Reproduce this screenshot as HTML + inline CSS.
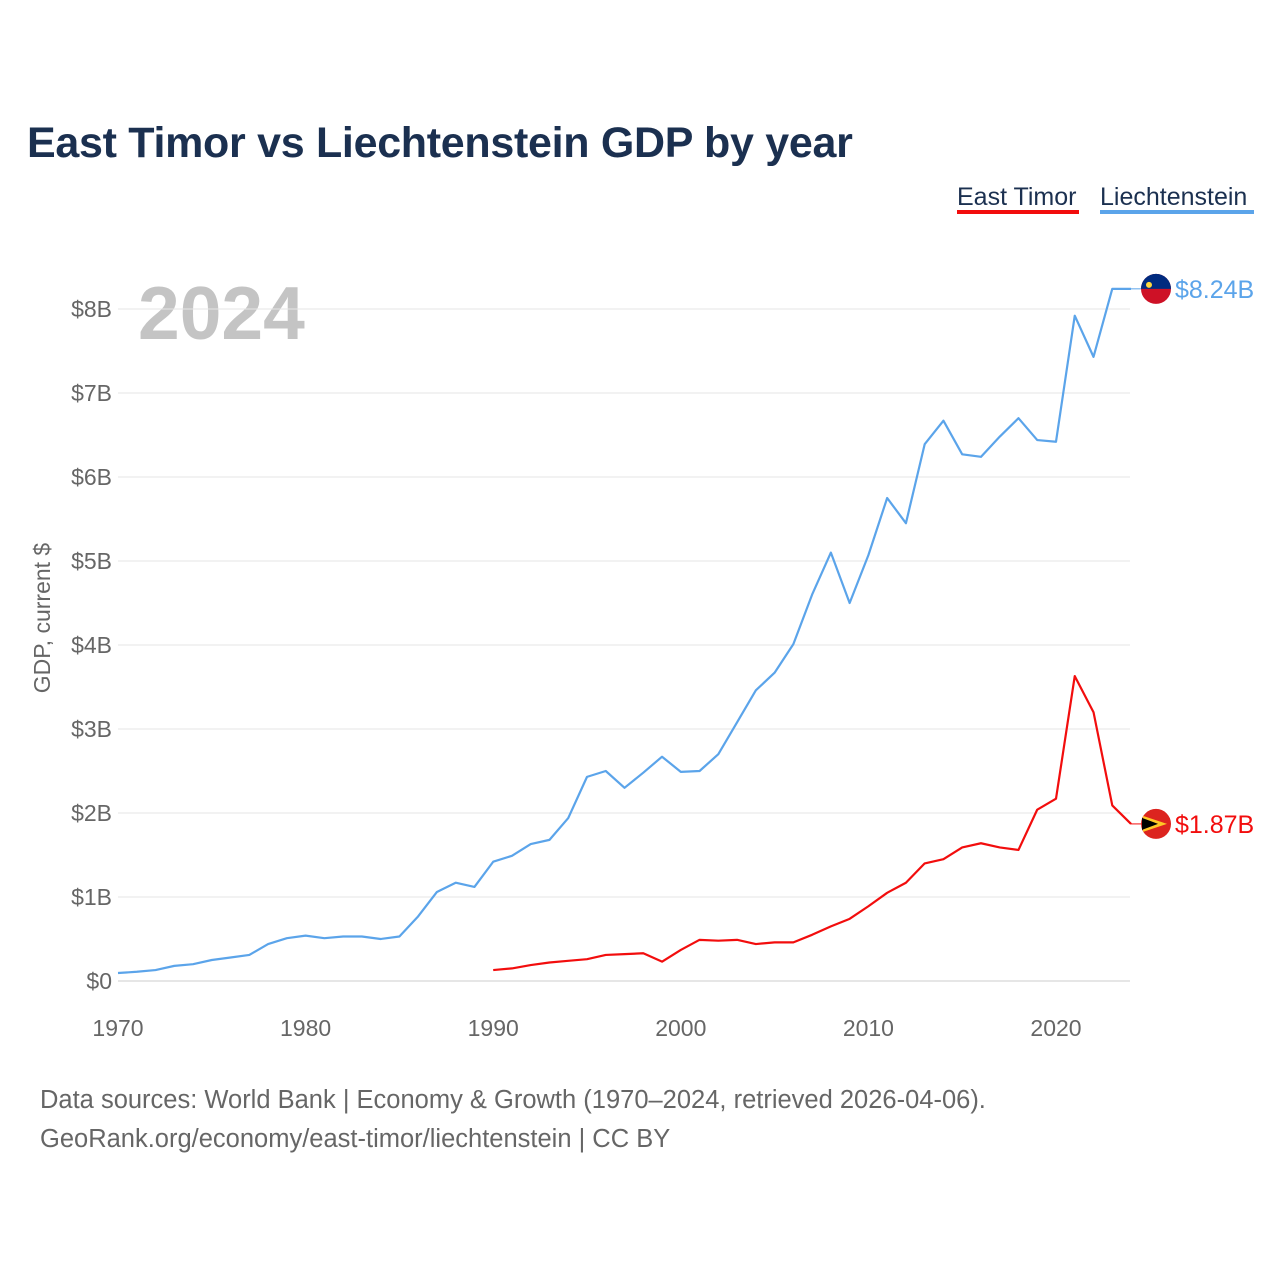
<!DOCTYPE html>
<html><head><meta charset="utf-8"><style>
body{margin:0;background:#fff;font-family:"Liberation Sans",sans-serif}
svg text{font-family:"Liberation Sans",sans-serif}
</style></head><body>
<svg width="1280" height="1280" viewBox="0 0 1280 1280">
<text x="27" y="157" font-size="43" letter-spacing="-0.3" font-weight="bold" fill="#1b3050">East Timor vs Liechtenstein GDP by year</text>
<g><text x="957" y="205" font-size="25" fill="#1b3050">East Timor</text><rect x="957" y="210" width="122" height="4" fill="#f20d0d"/></g>
<g><text x="1100" y="205" font-size="25" fill="#1b3050">Liechtenstein</text><rect x="1100" y="210" width="154" height="4" fill="#5ba4ea"/></g>
<text x="138" y="339" font-size="75" font-weight="bold" fill="#c4c4c4">2024</text>
<text transform="translate(50,618) rotate(-90)" text-anchor="middle" font-size="23" fill="#666">GDP, current $</text>
<g id="grid"></g><g id="series"></g>
<text x="40" y="1108" font-size="25.5" fill="#666">Data sources: World Bank | Economy &amp; Growth (1970–2024, retrieved 2026-04-06).</text>
<text x="40" y="1147" font-size="25.5" fill="#666">GeoRank.org/economy/east-timor/liechtenstein | CC BY</text>
</svg>
<script>
const yTicks=[0,1,2,3,4,5,6,7,8];
const yTickLabels=["$0","$1B","$2B","$3B","$4B","$5B","$6B","$7B","$8B"];
const xTicks=[1970,1980,1990,2000,2010,2020];
const liYears=[];for(let y=1970;y<=2024;y++)liYears.push(y);
const liechtenstein=[0.095,0.11,0.13,0.18,0.2,0.25,0.28,0.31,0.44,0.51,0.54,0.51,0.53,0.53,0.5,0.53,0.77,1.06,1.17,1.12,1.42,1.49,1.63,1.68,1.94,2.43,2.5,2.3,2.48,2.67,2.49,2.5,2.7,3.08,3.46,3.67,4.01,4.6,5.1,4.5,5.07,5.75,5.45,6.39,6.67,6.27,6.24,6.48,6.7,6.44,6.42,7.92,7.43,8.24,8.24];
const etYears=[];for(let y=1990;y<=2024;y++)etYears.push(y);
const eastTimor=[0.13,0.15,0.19,0.22,0.24,0.26,0.31,0.32,0.33,0.23,0.37,0.49,0.48,0.49,0.44,0.46,0.46,0.55,0.65,0.74,0.89,1.05,1.17,1.4,1.45,1.59,1.64,1.59,1.56,2.04,2.17,3.63,3.2,2.09,1.87];
const NS="http://www.w3.org/2000/svg";
const xs=y=>118+(y-1970)*18.76;
const ys=v=>981-v*84;
function mk(t,a,p){const e=document.createElementNS(NS,t);for(const k in a)e.setAttribute(k,a[k]);p.appendChild(e);return e;}
const grid=document.getElementById('grid');
yTicks.forEach((v,i)=>{
 const l=mk('line',{x1:118,x2:1130,y1:ys(v),y2:ys(v),stroke:i==0?'#ccc':'#e6e6e6','stroke-width':1},grid);
 
 
 const t=mk('text',{x:112,y:ys(v)+8,'text-anchor':'end','font-size':23,fill:'#666'},grid);t.textContent=yTickLabels[i];
 
 
});
xTicks.forEach(y=>{
 const t=mk('text',{x:xs(y),y:1036,'text-anchor':'middle','font-size':23,fill:'#666'},grid);t.textContent=y;
 
 
});
const s=document.getElementById('series');
function line(years,vals,col,name,label,flag){
 const d=years.map((y,i)=>(i?'L':'M')+xs(y)+','+ys(vals[i])).join('');
 const p=mk('path',{d:d,fill:'none',stroke:col,'stroke-width':2.2,'stroke-linejoin':'round'},s);
 
 
 const lv=vals[vals.length-1],ly=ys(lv),lx=xs(years[years.length-1]);
 mk('line',{x1:lx,x2:1142,y1:ly,y2:ly,stroke:col,'stroke-width':1},s);
 const g=mk('g',{},s);
 
 
 if(flag==='liechtenstein-flag'){
  mk('circle',{cx:1156,cy:ly,r:15,fill:'#ce1126'},g);
  mk('path',{d:`M1141,${ly}A15,15 0 0 1 1171,${ly}Z`,fill:'#002b7f'},g);
  mk('circle',{cx:1149,cy:ly-4,r:3,fill:'#ffd83d'},g);
 }else{
  mk('circle',{cx:1156,cy:ly,r:15,fill:'#dc241f'},g);
  mk('path',{d:`M1143,${ly-8}L1167,${ly}L1143,${ly+8}Z`,fill:'#ffc726'},g);
  mk('path',{d:`M1142,${ly-6}L1158,${ly}L1142,${ly+6}Z`,fill:'#000'},g);
 }
 const t=mk('text',{x:1175,y:ly+9,'font-size':25,fill:col},s);t.textContent=label;
 
 
}
line(liYears,liechtenstein,'#5ba4ea','liechtenstein-line','$8.24B','liechtenstein-flag');
line(etYears,eastTimor,'#f20d0d','east-timor-line','$1.87B','east-timor-flag');
</script>
</body></html>
